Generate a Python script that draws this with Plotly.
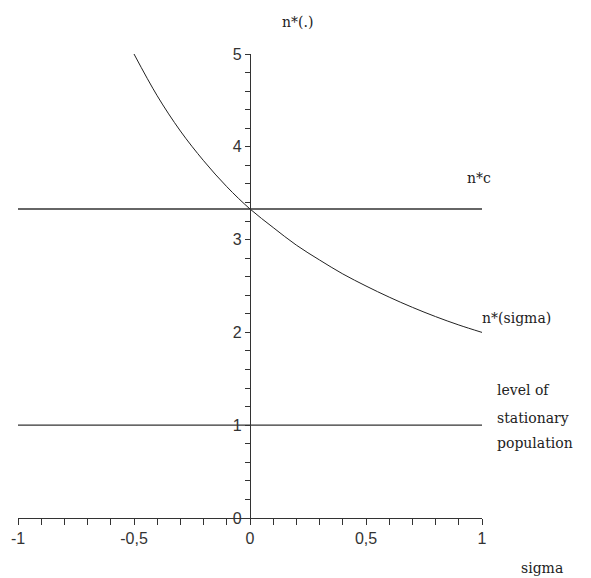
import plotly.graph_objects as go

# n*(sigma) curve
sigma = [-0.5, -0.4, -0.3, -0.2, -0.1, 0.0, 0.1, 0.2, 0.3, 0.4, 0.5, 0.6, 0.7, 0.8, 0.9, 1.0]
n_star = [5.0, 4.55, 4.17, 3.85, 3.57, 3.33, 3.13, 2.94, 2.78, 2.63, 2.5, 2.38, 2.27, 2.17, 2.08, 2.0]

# horizontal reference levels
level_x = [-1, 1]
n_c = 3.33
stationary = 1.0

x_ticks = [round(-1 + 0.1 * i, 1) for i in range(21)]
x_labels = {-1.0: "-1", -0.5: "-0,5", 0.0: "0", 0.5: "0,5", 1.0: "1"}
y_ticks = [round(0.2 * i, 1) for i in range(26)]
y_labels = {0.0: "0", 1.0: "1", 2.0: "2", 3.0: "3", 4.0: "4", 5.0: "5"}

line_col = "#333333"
serif = "DejaVu Serif"
sans = "Liberation Sans"

fig = go.Figure()
fig.add_trace(go.Scatter(x=level_x, y=[n_c, n_c], mode="lines",
                         line=dict(color=line_col, width=1.3), hoverinfo="skip"))
fig.add_trace(go.Scatter(x=level_x, y=[stationary, stationary], mode="lines",
                         line=dict(color=line_col, width=1.3), hoverinfo="skip"))
fig.add_trace(go.Scatter(x=sigma, y=n_star, mode="lines", line_shape="spline",
                         line=dict(color="#222222", width=1), hoverinfo="skip"))

# page body has an 8px margin, so the figure is a bit smaller than the window
fig.update_layout(
    width=583, height=570,
    margin=dict(l=10, r=109, t=46, b=60, autoexpand=False),
    paper_bgcolor="white", plot_bgcolor="white",
    showlegend=False,
    xaxis=dict(range=[-1, 1], showgrid=False, zeroline=False, automargin=False,
               showline=True, linecolor=line_col, linewidth=1.3,
               ticks="outside", ticklen=6, tickcolor=line_col,
               tickvals=x_ticks, ticktext=[x_labels.get(v, "") for v in x_ticks],
               tickfont=dict(family=sans, size=16, color="#333333")),
    yaxis=dict(range=[0, 5], showgrid=False, zeroline=False, automargin=False,
               anchor="free", position=0.5,
               showline=True, linecolor=line_col, linewidth=1.3,
               ticks="outside", ticklen=5, tickcolor=line_col,
               tickvals=y_ticks, ticktext=[y_labels.get(v, "") for v in y_ticks],
               tickfont=dict(family=sans, size=16, color="#333333")),
)

ann_font = dict(family=serif, size=14, color="#222222")
# (text, paper x, paper y, xanchor) -- plot area is 464 x 464 px
labels = [
    ("n*(.)", 0.603, 1.069, "center"),
    ("n*c", 0.963, 0.733, "left"),
    ("n*(sigma)", 0.996, 0.431, "left"),
    ("level of", 1.028, 0.276, "left"),
    ("stationary", 1.028, 0.216, "left"),
    ("population", 1.028, 0.162, "left"),
    ("sigma", 1.079, -0.108, "left"),
]
for txt, ax, ay, anchor in labels:
    fig.add_annotation(text=txt, x=ax, y=ay, xref="paper", yref="paper", showarrow=False,
                       xanchor=anchor, yanchor="middle", font=ann_font)

fig.write_html("out.html")
